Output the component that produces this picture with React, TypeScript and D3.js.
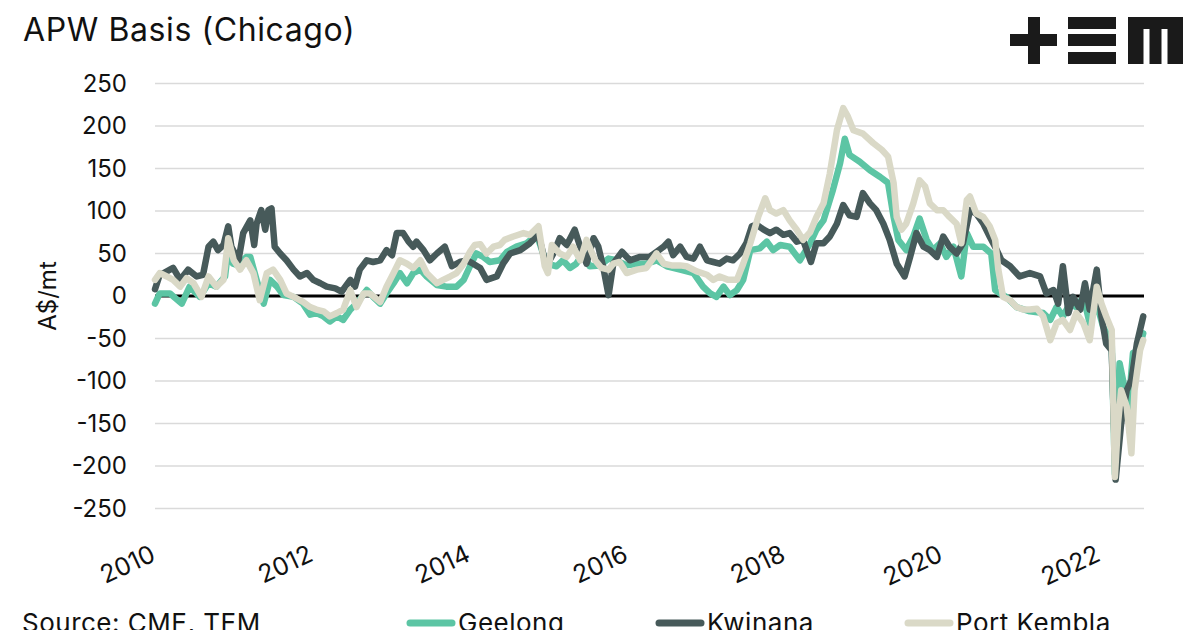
import React from 'react';
import * as d3 from 'd3';

type Pt = [number, number];

const titleText = 'APW Basis (Chicago)';
const yAxisTitle = 'A$/mt';
const sourceText = 'Source: CME, TEM';
const yTickValues = [250, 200, 150, 100, 50, 0, -50, -100, -150, -200, -250];
const xTickYears = [2010, 2012, 2014, 2016, 2018, 2020, 2022];
const seriesNames = ['Geelong', 'Kwinana', 'Port Kembla'];
const seriesColors = ['#5cc5a4', '#475a5a', '#dad9c7'];

const geelong: Pt[] = [[2010.00,-9],[2010.06,3],[2010.19,3],[2010.34,-9],[2010.44,11],[2010.57,-1],[2010.68,15],[2010.78,11],[2010.89,23],[2010.93,55],[2010.99,38],[2011.06,36],[2011.16,46],[2011.21,46],[2011.29,19],[2011.38,-9],[2011.46,19],[2011.55,11],[2011.63,1],[2011.76,-1],[2011.88,-9],[2011.97,-22],[2012.05,-20],[2012.14,-24],[2012.22,-30],[2012.31,-24],[2012.39,-28],[2012.48,-16],[2012.56,-9],[2012.69,7],[2012.77,-1],[2012.86,-9],[2012.94,3],[2013.03,15],[2013.11,27],[2013.20,15],[2013.28,27],[2013.37,31],[2013.45,23],[2013.58,13],[2013.70,11],[2013.83,11],[2013.92,19],[2014.00,35],[2014.08,50],[2014.17,46],[2014.25,40],[2014.38,42],[2014.47,52],[2014.59,58],[2014.72,62],[2014.85,72],[2014.97,38],[2015.10,35],[2015.18,42],[2015.27,33],[2015.35,38],[2015.44,50],[2015.52,35],[2015.65,36],[2015.76,44],[2015.86,42],[2015.99,36],[2016.12,38],[2016.24,38],[2016.37,42],[2016.50,35],[2016.67,31],[2016.84,27],[2016.96,11],[2017.05,3],[2017.13,-1],[2017.22,11],[2017.30,1],[2017.39,7],[2017.47,19],[2017.56,54],[2017.68,56],[2017.77,64],[2017.85,54],[2017.94,60],[2018.06,58],[2018.19,42],[2018.32,62],[2018.40,78],[2018.49,89],[2018.61,125],[2018.70,156],[2018.76,185],[2018.82,166],[2018.95,158],[2019.08,148],[2019.21,140],[2019.31,133],[2019.38,93],[2019.44,66],[2019.54,54],[2019.63,70],[2019.71,91],[2019.80,66],[2019.88,54],[2019.97,62],[2020.05,46],[2020.14,58],[2020.24,23],[2020.31,74],[2020.39,58],[2020.52,58],[2020.62,50],[2020.67,7],[2020.73,3],[2020.81,-1],[2020.94,-13],[2021.11,-18],[2021.28,-20],[2021.37,-28],[2021.45,-13],[2021.53,-24],[2021.62,-9],[2021.70,-13],[2021.79,-1],[2021.87,-32],[2021.96,-9],[2022.04,-36],[2022.15,-56],[2022.19,-209],[2022.25,-79],[2022.32,-111],[2022.36,-134],[2022.42,-67],[2022.49,-64],[2022.55,-44]];

const kwinana: Pt[] = [[2010.00,8],[2010.06,25],[2010.11,27],[2010.23,33],[2010.32,19],[2010.42,31],[2010.53,23],[2010.61,25],[2010.68,58],[2010.74,64],[2010.80,54],[2010.87,60],[2010.93,82],[2010.97,58],[2011.06,42],[2011.12,74],[2011.21,89],[2011.26,60],[2011.29,85],[2011.35,101],[2011.40,78],[2011.44,101],[2011.48,103],[2011.52,58],[2011.59,50],[2011.67,42],[2011.76,31],[2011.84,23],[2011.93,27],[2012.01,19],[2012.10,15],[2012.18,11],[2012.29,9],[2012.37,5],[2012.48,19],[2012.54,11],[2012.60,31],[2012.69,42],[2012.77,40],[2012.86,42],[2012.94,54],[2013.01,48],[2013.07,74],[2013.15,74],[2013.22,64],[2013.28,58],[2013.32,64],[2013.41,54],[2013.49,42],[2013.58,50],[2013.68,58],[2013.77,35],[2013.87,40],[2013.96,42],[2014.04,38],[2014.13,33],[2014.21,19],[2014.34,23],[2014.42,38],[2014.51,50],[2014.64,54],[2014.76,62],[2014.87,72],[2014.97,35],[2015.06,50],[2015.14,68],[2015.23,60],[2015.33,78],[2015.40,58],[2015.48,38],[2015.57,68],[2015.63,58],[2015.69,35],[2015.76,1],[2015.82,38],[2015.93,52],[2016.03,42],[2016.16,46],[2016.28,46],[2016.37,52],[2016.46,58],[2016.52,64],[2016.58,48],[2016.67,58],[2016.75,46],[2016.84,44],[2016.92,58],[2017.01,42],[2017.09,40],[2017.17,38],[2017.26,44],[2017.34,42],[2017.43,50],[2017.51,62],[2017.58,82],[2017.64,84],[2017.73,78],[2017.81,74],[2017.89,78],[2017.98,72],[2018.06,74],[2018.15,64],[2018.23,66],[2018.33,40],[2018.40,62],[2018.49,62],[2018.57,70],[2018.66,85],[2018.74,107],[2018.82,95],[2018.91,93],[2018.99,121],[2019.08,109],[2019.16,101],[2019.25,85],[2019.33,66],[2019.42,38],[2019.52,23],[2019.59,46],[2019.67,74],[2019.76,58],[2019.84,54],[2019.93,46],[2020.01,70],[2020.09,58],[2020.18,50],[2020.26,62],[2020.35,101],[2020.43,97],[2020.52,85],[2020.60,70],[2020.69,54],[2020.75,42],[2020.86,35],[2020.98,23],[2021.11,27],[2021.24,23],[2021.32,3],[2021.41,7],[2021.47,-9],[2021.53,35],[2021.60,-20],[2021.66,-1],[2021.75,-16],[2021.81,15],[2021.87,-16],[2021.96,31],[2022.02,-24],[2022.08,-56],[2022.15,-64],[2022.20,-216],[2022.27,-150],[2022.34,-111],[2022.40,-99],[2022.47,-56],[2022.55,-24]];

const portKembla: Pt[] = [[2010.00,19],[2010.06,27],[2010.15,23],[2010.23,19],[2010.32,11],[2010.40,21],[2010.49,15],[2010.59,-1],[2010.68,23],[2010.78,11],[2010.87,19],[2010.93,68],[2011.00,42],[2011.08,31],[2011.16,42],[2011.25,27],[2011.33,-5],[2011.42,27],[2011.50,31],[2011.59,19],[2011.67,3],[2011.76,-1],[2011.88,-7],[2011.97,-13],[2012.05,-16],[2012.14,-18],[2012.22,-24],[2012.31,-20],[2012.39,-16],[2012.48,7],[2012.56,-13],[2012.65,3],[2012.73,3],[2012.86,-7],[2012.94,11],[2013.03,27],[2013.11,42],[2013.20,38],[2013.28,33],[2013.37,42],[2013.45,27],[2013.58,15],[2013.66,19],[2013.75,23],[2013.83,27],[2013.92,38],[2014.00,52],[2014.06,60],[2014.13,61],[2014.21,50],[2014.30,58],[2014.38,60],[2014.44,66],[2014.55,70],[2014.68,74],[2014.76,72],[2014.87,82],[2014.95,35],[2014.99,27],[2015.04,60],[2015.14,50],[2015.23,46],[2015.31,58],[2015.40,42],[2015.48,66],[2015.59,42],[2015.67,33],[2015.76,31],[2015.82,38],[2015.90,40],[2015.99,27],[2016.12,31],[2016.24,33],[2016.37,50],[2016.46,38],[2016.56,36],[2016.67,36],[2016.75,35],[2016.88,29],[2017.01,25],[2017.09,19],[2017.17,23],[2017.28,19],[2017.39,19],[2017.47,38],[2017.56,62],[2017.66,93],[2017.75,115],[2017.81,101],[2017.89,97],[2017.98,101],[2018.06,89],[2018.15,78],[2018.23,66],[2018.32,75],[2018.40,93],[2018.49,109],[2018.57,144],[2018.66,195],[2018.74,221],[2018.80,211],[2018.87,195],[2018.99,191],[2019.12,180],[2019.23,172],[2019.31,164],[2019.38,133],[2019.42,93],[2019.48,78],[2019.54,85],[2019.63,109],[2019.71,136],[2019.78,129],[2019.84,109],[2019.93,101],[2020.01,101],[2020.09,93],[2020.18,85],[2020.24,62],[2020.31,113],[2020.35,117],[2020.43,97],[2020.52,93],[2020.60,82],[2020.67,66],[2020.71,31],[2020.77,-1],[2020.86,-5],[2020.94,-13],[2021.03,-16],[2021.11,-16],[2021.20,-15],[2021.28,-24],[2021.37,-52],[2021.45,-32],[2021.53,-28],[2021.62,-40],[2021.70,-20],[2021.79,-32],[2021.87,-52],[2021.96,11],[2022.02,-9],[2022.08,-24],[2022.15,-40],[2022.19,-213],[2022.23,-150],[2022.27,-111],[2022.34,-130],[2022.40,-185],[2022.44,-111],[2022.51,-64],[2022.55,-52]];

const seriesData: Pt[][] = [geelong, kwinana, portKembla];

const FONT = 'Inter, "Noto Sans", sans-serif';

export default function App() {
  const W = 1200;
  const H = 630;
  const left = 155;
  const right = 1144;
  const x = d3.scaleLinear().domain([2010, 2022.56]).range([left, right]);
  const y = d3.scaleLinear().domain([-250, 250]).range([508.5, 83.5]);
  const line = d3
    .line<Pt>()
    .x((d) => x(d[0]))
    .y((d) => y(d[1]))
    .curve(d3.curveLinear);

  const legendX = [410, 659, 908];

  return (
    <svg
      width={W}
      height={H}
      viewBox={`0 0 ${W} ${H}`}
      style={{ position: 'fixed', left: 0, top: 0, background: '#fff' }}
      fontFamily={FONT}
    >
      <rect x={0} y={0} width={W} height={H} fill="#fff" />
      <text x={23} y={41} fontSize={32} letterSpacing={0.6} fill="#111">
        {titleText}
      </text>

      {/* logo */}
      <g fill="#1a1a1a">
        <rect x={1010} y={34} width={47} height={12} />
        <rect x={1028} y={17} width={12} height={47} />
        <rect x={1068} y={17} width={48} height={12} />
        <rect x={1068} y={34} width={48} height={12} />
        <rect x={1068} y={52} width={48} height={12} />
        <rect x={1128} y={17} width={55} height={12} />
        <rect x={1128} y={17} width={15.5} height={47} />
        <rect x={1149.5} y={17} width={12} height={47} />
        <rect x={1167.5} y={17} width={15.5} height={47} />
      </g>

      {/* gridlines */}
      {yTickValues
        .filter((v) => v !== 0)
        .map((v) => (
          <line key={v} x1={left} x2={right} y1={y(v)} y2={y(v)} stroke="#dadada" strokeWidth={1.5} />
        ))}

      {/* y tick labels */}
      {yTickValues.map((v) => (
        <text key={v} x={127} y={y(v)} dy="0.35em" textAnchor="end" fontSize={24} fill="#111">
          {v < 0 ? `-${Math.abs(v)}` : `${v}`}
        </text>
      ))}

      <text
        transform={`translate(56, ${y(0)}) rotate(-90)`}
        textAnchor="middle"
        fontSize={24}
        fill="#111"
      >
        {yAxisTitle}
      </text>

      {/* x tick labels */}
      {xTickYears.map((yr) => (
        <text
          key={yr}
          transform={`translate(${x(yr) + 2}, 560) rotate(-25)`}
          textAnchor="end"
          fontSize={25}
          fill="#111"
        >
          {yr}
        </text>
      ))}

      {/* zero line */}
      <line x1={left} x2={right} y1={y(0)} y2={y(0)} stroke="#000" strokeWidth={3} />

      {/* series */}
      {seriesData.map((s, i) => (
        <path
          key={seriesNames[i]}
          d={line(s) || ''}
          fill="none"
          stroke={seriesColors[i]}
          strokeWidth={6.5}
          strokeLinejoin="round"
          strokeLinecap="round"
        />
      ))}

      {/* footer */}
      <text x={22} y={632} fontSize={26} letterSpacing={0.5} fill="#111">
        {sourceText}
      </text>
      {seriesNames.map((n, i) => (
        <g key={n}>
          <line
            x1={legendX[i]}
            x2={legendX[i] + 42}
            y1={623}
            y2={623}
            stroke={seriesColors[i]}
            strokeWidth={7}
            strokeLinecap="round"
          />
          <text x={legendX[i] + 48} y={632} fontSize={26} letterSpacing={0.5} fill="#111">
            {n}
          </text>
        </g>
      ))}
    </svg>
  );
}
